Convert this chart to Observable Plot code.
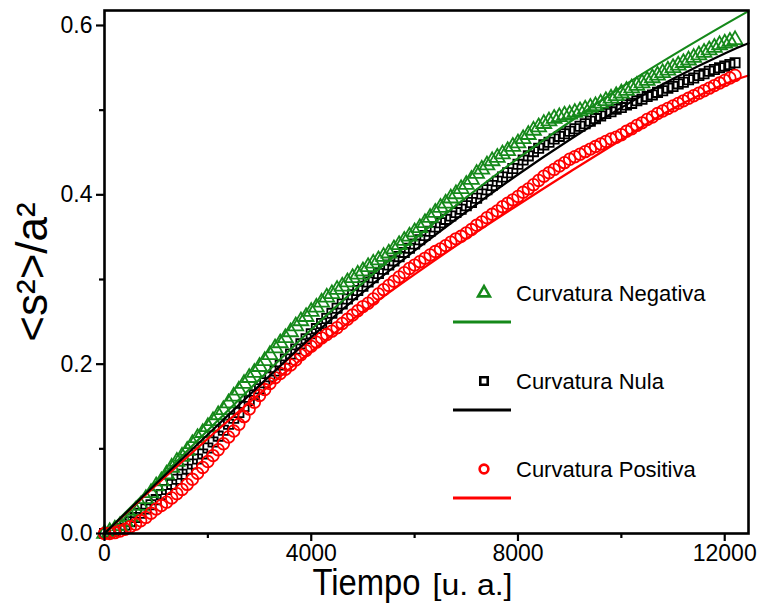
<!DOCTYPE html>
<html>
<head>
<meta charset="utf-8">
<script src="https://cdn.jsdelivr.net/npm/d3@7"></script>
<script src="https://cdn.jsdelivr.net/npm/@observablehq/plot@0.6"></script>
<style>
  body { margin: 0; background: #fff; }
  #chart { position: relative; width: 759px; height: 614px; }
  #chart svg { overflow: visible; }
</style>
</head>
<body>
<div id="chart"></div>
<script>
// ---- Data ----
// sampling times (u. a.) of the simulated points
const times = d3.range(0, 12201, 100);

// <s^2>/a^2, Curvatura Negativa (triangles)
const negativa = [
  0.000,0.002,0.005,0.009,0.014,0.020,0.027,0.033,0.041,0.048,
  0.056,0.062,0.070,0.078,0.085,0.091,0.098,0.106,0.113,0.119,
  0.126,0.133,0.140,0.146,0.154,0.162,0.169,0.177,0.184,0.190,
  0.197,0.204,0.211,0.219,0.225,0.231,0.238,0.245,0.251,0.256,
  0.262,0.267,0.273,0.279,0.283,0.288,0.292,0.297,0.302,0.306,
  0.310,0.315,0.319,0.323,0.327,0.331,0.336,0.341,0.346,0.351,
  0.356,0.361,0.367,0.373,0.379,0.385,0.390,0.396,0.401,0.407,
  0.412,0.418,0.425,0.430,0.435,0.440,0.444,0.448,0.452,0.457,
  0.461,0.466,0.471,0.476,0.480,0.484,0.487,0.490,0.492,0.494,
  0.495,0.497,0.499,0.501,0.503,0.505,0.508,0.511,0.514,0.517,
  0.520,0.523,0.526,0.529,0.532,0.535,0.538,0.541,0.544,0.547,
  0.550,0.553,0.556,0.559,0.562,0.565,0.568,0.571,0.574,0.577,
  0.579,0.581,0.583
];

// <s^2>/a^2, Curvatura Nula (squares)
const nula = [
  0.000,0.001,0.003,0.006,0.010,0.014,0.019,0.024,0.029,0.034,
  0.040,0.046,0.052,0.058,0.064,0.070,0.076,0.082,0.088,0.094,
  0.101,0.108,0.115,0.122,0.129,0.136,0.143,0.150,0.157,0.164,
  0.171,0.178,0.185,0.192,0.199,0.206,0.212,0.218,0.224,0.230,
  0.236,0.242,0.248,0.254,0.260,0.266,0.271,0.277,0.282,0.287,
  0.292,0.297,0.302,0.307,0.312,0.317,0.322,0.327,0.332,0.337,
  0.342,0.347,0.352,0.357,0.362,0.367,0.371,0.375,0.379,0.383,
  0.387,0.391,0.396,0.401,0.406,0.411,0.416,0.421,0.426,0.431,
  0.436,0.441,0.446,0.451,0.455,0.459,0.462,0.466,0.469,0.472,
  0.475,0.478,0.481,0.484,0.487,0.490,0.493,0.496,0.498,0.501,
  0.503,0.506,0.508,0.511,0.513,0.516,0.518,0.521,0.523,0.526,
  0.528,0.531,0.533,0.536,0.538,0.541,0.543,0.546,0.548,0.550,
  0.552,0.554,0.556
];

// <s^2>/a^2, Curvatura Positiva (circles)
const positiva = [
  0.000,0.000,0.001,0.003,0.005,0.008,0.011,0.015,0.019,0.024,
  0.029,0.033,0.037,0.042,0.047,0.052,0.058,0.064,0.071,0.078,
  0.085,0.092,0.099,0.106,0.114,0.121,0.129,0.138,0.147,0.155,
  0.163,0.170,0.177,0.184,0.189,0.194,0.199,0.205,0.211,0.216,
  0.221,0.226,0.231,0.235,0.239,0.243,0.248,0.253,0.258,0.263,
  0.268,0.272,0.277,0.283,0.288,0.293,0.298,0.303,0.308,0.313,
  0.317,0.321,0.325,0.329,0.333,0.336,0.340,0.344,0.348,0.351,
  0.355,0.359,0.364,0.368,0.373,0.377,0.381,0.386,0.390,0.394,
  0.398,0.403,0.407,0.412,0.417,0.422,0.426,0.430,0.434,0.438,
  0.442,0.445,0.448,0.451,0.454,0.457,0.460,0.463,0.466,0.468,
  0.471,0.475,0.478,0.482,0.485,0.489,0.492,0.496,0.499,0.502,
  0.505,0.508,0.511,0.514,0.517,0.520,0.523,0.526,0.529,0.532,
  0.535,0.538,0.541
];

// fitted curves (solid lines)
const fitTimes = [0,1000,2000,3000,4000,5000,6000,7000,8000,9000,10000,11000,12000,12460];
const fitNegativa = [0,0.061,0.122,0.182,0.241,0.296,0.348,0.397,0.443,0.486,0.527,0.565,0.601,0.617];
const fitNula     = [0,0.059,0.117,0.175,0.232,0.285,0.334,0.380,0.424,0.465,0.503,0.537,0.567,0.579];
const fitPositiva = [0,0.057,0.112,0.165,0.215,0.262,0.306,0.348,0.388,0.427,0.465,0.502,0.531,0.541];

const seriesNames   = ["Curvatura Negativa", "Curvatura Nula", "Curvatura Positiva"];
const seriesColors  = ["#15891a", "#000000", "#ff0000"];
const seriesSymbols = ["triangle", "square", "circle"];

const xTicks = [0, 4000, 8000, 12000];
const xMinorTicks = [2000, 6000, 10000];
const yTicks = [0, 0.2, 0.4, 0.6];
const yMinorTicks = [0.1, 0.3, 0.5];
const xTitle = ["Tiempo", "[u. a.]"];
const yTitle = "<s²>/a²";

// ---- build tables ----
const pointsOf = (vals, i) => vals.map((v, k) => ({t: times[k], v, name: seriesNames[i]}));
const fitOf = (vals, i) => vals.map((v, k) => ({t: fitTimes[k], v, name: seriesNames[i]}));
const ptsNeg = pointsOf(negativa, 0), ptsNul = pointsOf(nula, 1), ptsPos = pointsOf(positiva, 2);
const fitNeg = fitOf(fitNegativa, 0), fitNul = fitOf(fitNula, 1), fitPos = fitOf(fitPositiva, 2);

const FONT = "'Liberation Sans', Arial, Helvetica, sans-serif";

const chart = Plot.plot({
  width: 759,
  height: 614,
  marginLeft: 104,
  marginRight: 11,
  marginTop: 10,
  marginBottom: 81,
  style: {fontFamily: FONT, background: "white", color: "black", overflow: "visible"},
  x: {domain: [0, 12460]},
  y: {domain: [0, 0.6177]},
  marks: [
    Plot.dot(ptsNul, {x: "t", y: "v", symbol: seriesSymbols[1], r: 5.2, stroke: seriesColors[1], strokeWidth: 1.8, fill: "none"}),
    Plot.dot(ptsNeg, {x: "t", y: "v", symbol: seriesSymbols[0], r: 5.5, stroke: seriesColors[0], strokeWidth: 1.8, fill: "none"}),
    Plot.dot(ptsPos, {x: "t", y: "v", symbol: seriesSymbols[2], r: 5.8, stroke: seriesColors[2], strokeWidth: 1.8, fill: "none"}),
    Plot.line(fitPos, {x: "t", y: "v", stroke: seriesColors[2], strokeWidth: 2.2, curve: "natural"}),
    Plot.line(fitNeg, {x: "t", y: "v", stroke: seriesColors[0], strokeWidth: 2.2, curve: "natural"}),
    Plot.line(fitNul, {x: "t", y: "v", stroke: seriesColors[1], strokeWidth: 2.2, curve: "natural"}),
    Plot.frame({stroke: "black", strokeWidth: 2.6}),
    Plot.axisX({ticks: xTicks, tickSize: 8, tickPadding: 3, fontSize: 23, strokeWidth: 2.2, tickFormat: "d", label: null}),
    Plot.axisX({ticks: xMinorTicks, tickSize: 5, strokeWidth: 2.2, tickFormat: () => "", label: null}),
    Plot.axisY({ticks: yTicks, tickSize: 8, tickPadding: 4, fontSize: 23, strokeWidth: 2.2, tickFormat: ".1f", label: null}),
    Plot.axisY({ticks: yMinorTicks, tickSize: 5, strokeWidth: 2.2, tickFormat: () => "", label: null}),
    Plot.text([xTitle[0]], {frameAnchor: "bottom", textAnchor: "end", dx: -6, dy: 61, fontSize: 36, fill: "black"}),
    Plot.text([xTitle[1]], {frameAnchor: "bottom", textAnchor: "start", dx: 6, dy: 61, fontSize: 30, fill: "black"}),
    Plot.text([yTitle], {frameAnchor: "left", textAnchor: "middle", rotate: -90, dx: -72, fontSize: 44, fill: "black"})
  ]
});

document.getElementById("chart").appendChild(chart);

// condense the x-axis title the way the reference's narrow type looks
const svg = d3.select(chart);
svg.selectAll("text").each(function() {
  const s = this.textContent;
  if (s === xTitle[0]) d3.select(this).attr("textLength", 108).attr("lengthAdjust", "spacingAndGlyphs");
  if (s === xTitle[1]) d3.select(this).attr("textLength", 80).attr("lengthAdjust", "spacingAndGlyphs");
});

// ---- in-plot legend ----
const legend = svg.append("g").attr("class", "legend").attr("font-family", FONT).attr("text-anchor", "start");
const symbolTypes = {triangle: d3.symbolTriangle, square: d3.symbolSquare, circle: d3.symbolCircle};
const symbolSizes = {triangle: 60, square: 55, circle: 60};
seriesNames.forEach((name, i) => {
  const gy = 293 + i * 88;
  const g = legend.append("g").attr("transform", `translate(0,${gy})`);
  g.append("path")
    .attr("d", d3.symbol(symbolTypes[seriesSymbols[i]], symbolSizes[seriesSymbols[i]])())
    .attr("transform", "translate(484,0)")
    .attr("fill", "none").attr("stroke", seriesColors[i]).attr("stroke-width", 2.6);
  g.append("text").attr("x", 516).attr("y", 0).attr("dy", "0.36em")
    .attr("text-anchor", "start")
    .attr("font-size", 22).attr("fill", "black").text(name);
  g.append("line").attr("x1", 453).attr("x2", 511).attr("y1", 29).attr("y2", 29)
    .attr("stroke", seriesColors[i]).attr("stroke-width", 3);
});
</script>
</body>
</html>
